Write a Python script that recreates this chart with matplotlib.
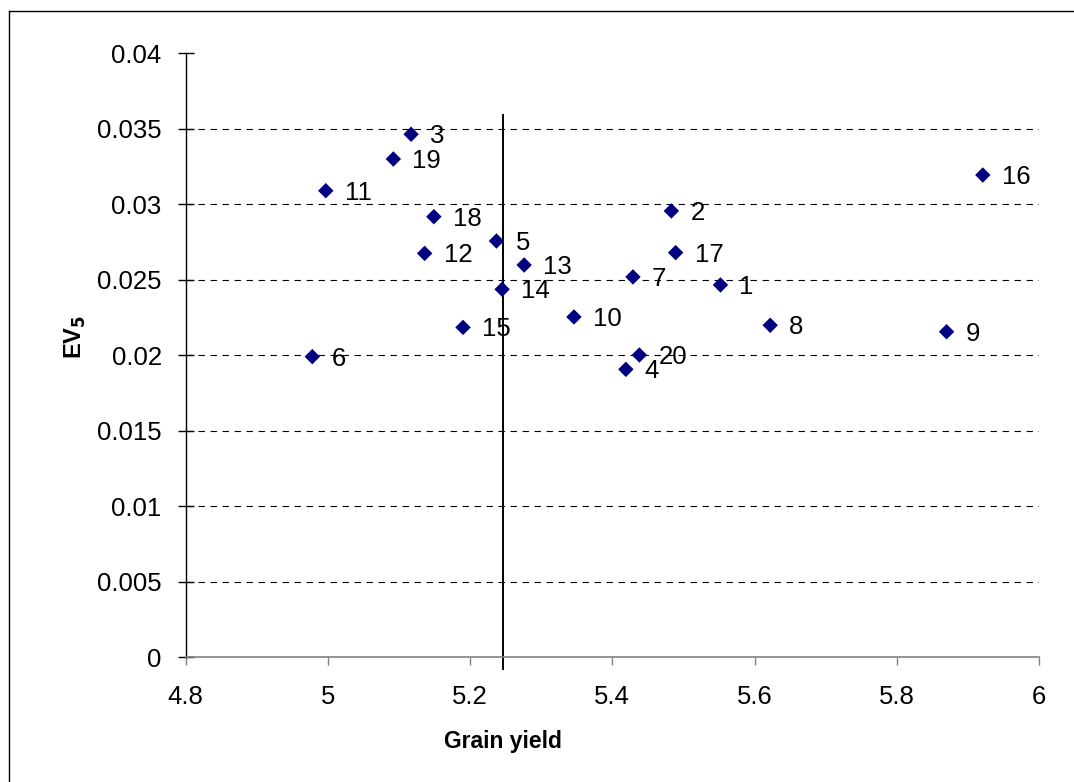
import matplotlib
matplotlib.use("Agg")
import matplotlib.pyplot as plt
from matplotlib.lines import Line2D

plt.rcParams['font.family'] = ['Liberation Sans', 'DejaVu Sans']

# Data
genotypes = ["1", "2", "3", "4", "5", "6", "7", "8", "9", "10",
             "11", "12", "13", "14", "15", "16", "17", "18", "19", "20"]
grain_yield = [5.552, 5.483, 5.117, 5.419, 5.237, 4.978, 5.429, 5.622, 5.870, 5.346,
               4.997, 5.136, 5.276, 5.245, 5.190, 5.921, 5.489, 5.149, 5.092, 5.438]
ev5 = [0.02466, 0.02956, 0.03464, 0.01907, 0.02757, 0.01991, 0.02519, 0.02199, 0.02156, 0.02254,
       0.03090, 0.02675, 0.02598, 0.02437, 0.02185, 0.03194, 0.02680, 0.02918, 0.03300, 0.02002]
mean_yield = 5.246
mean_line_top = 0.0359
mean_line_bottom = -0.0008

x_ticks = [4.8, 5.0, 5.2, 5.4, 5.6, 5.8, 6.0]
x_ticklabels = ["4.8", "5", "5.2", "5.4", "5.6", "5.8", "6"]
y_ticks = [0, 0.005, 0.01, 0.015, 0.02, 0.025, 0.03, 0.035, 0.04]
y_ticklabels = ["0", "0.005", "0.01", "0.015", "0.02", "0.025", "0.03", "0.035", "0.04"]
grid_levels = [0.005, 0.01, 0.015, 0.02, 0.025, 0.03, 0.035]

W, H = 1074, 782
fig = plt.figure(figsize=(W / 100, H / 100), dpi=100)
ax = fig.add_axes([185.7 / W, 1 - 657.3 / H, (1039 - 185.7) / W, (657.3 - 53.3) / H])

ax.set_xlim(4.8, 6.0)
ax.set_ylim(0, 0.04)

for g in grid_levels:
    ax.axhline(g, color='black', linewidth=0.8, linestyle=(0, (5.8, 5.0)), zorder=1)

ax.scatter(grain_yield, ev5, marker='D', s=62, color='#000080', edgecolors='none', zorder=3)

for lab, x, y in zip(genotypes, grain_yield, ev5):
    ax.annotate(lab, (x, y), xytext=(19, -9), textcoords='offset pixels',
                ha='left', va='baseline', fontsize=18.5, color='black', zorder=4)

ax.plot([mean_yield, mean_yield], [mean_line_bottom, mean_line_top], color='black',
        linewidth=1.4, clip_on=False, zorder=2)

ax.set_xticks(x_ticks)
ax.set_xticklabels(x_ticklabels)
ax.set_yticks(y_ticks)
ax.set_yticklabels(y_ticklabels)

for s in ['top', 'right']:
    ax.spines[s].set_visible(False)
ax.spines['left'].set_color('black')
ax.spines['left'].set_linewidth(1.0)
ax.spines['bottom'].set_color('#808080')
ax.spines['bottom'].set_linewidth(1.2)

ax.tick_params(axis='x', direction='out', length=5.8, width=1.0, color='#808080',
               pad=14, labelsize=18.5)
ax.tick_params(axis='y', direction='inout', length=11.5, width=1.0, color='black',
               pad=11.5, labelsize=18.5)

fig.text(503 / W, 1 - 748.3 / H, "Grain yield", ha='center', va='baseline',
         fontsize=16.5, fontweight='bold')
fig.text(75 / W, 1 - 337 / H, r"EV$_{\mathbf{5}}$", rotation=90, ha='center', va='center',
         fontsize=17, fontweight='bold')

# chart border (left and top edges visible in the reference)
fig.add_artist(Line2D([9 / W, 9 / W], [0, 1 - 11 / H], transform=fig.transFigure,
                      color='black', linewidth=1.0))
fig.add_artist(Line2D([9 / W, 1], [1 - 11 / H, 1 - 11 / H], transform=fig.transFigure,
                      color='black', linewidth=1.0))

fig.savefig("out.png", dpi=100)
